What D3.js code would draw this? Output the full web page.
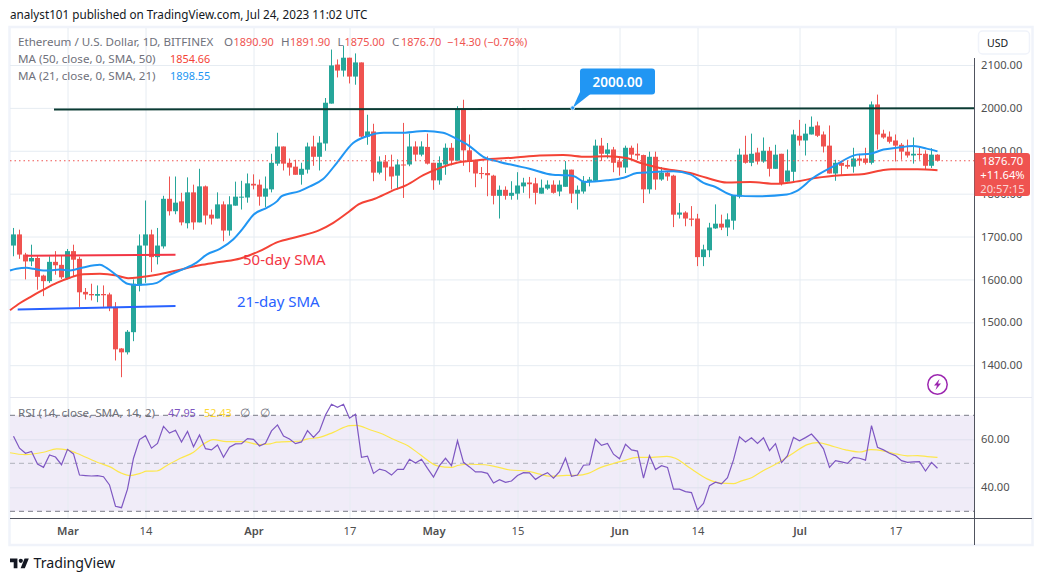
<!DOCTYPE html>
<html>
<head>
<meta charset="utf-8">
<title>ETH/USD daily chart</title>
<script src="https://cdn.jsdelivr.net/npm/d3@7"></script>
<style>
  html, body { margin: 0; padding: 0; background: #fff; }
  svg { display: block; }
  text { font-family: "Noto Sans", sans-serif; }
</style>
</head>
<body>
<svg id="chart" width="1044" height="581"></svg>
<script>
// Daily candles, Feb 20 to Jul 24 2023 (155 sessions)
const opens = [1679,1705,1658,1642,1650,1609,1596,1641,1634,1603,1666,1648,1571,1566,1562,1566,1565,1536,1439,1430,1477,1586,1679,1705,1652,1677,1788,1759,1782,1731,1803,1733,1817,1751,1742,1775,1714,1772,1792,1791,1823,1821,1793,1810,1870,1910,1872,1863,1844,1856,1910,1886,1917,2010,2101,2087,2117,2073,2106,1933,1945,1849,1875,1863,1842,1868,1868,1910,1891,1909,1872,1831,1868,1907,1877,1996,1901,1876,1848,1848,1842,1795,1809,1795,1800,1817,1826,1824,1800,1812,1821,1805,1816,1856,1800,1805,1828,1830,1912,1893,1903,1875,1861,1907,1893,1890,1810,1886,1833,1849,1842,1751,1756,1742,1742,1652,1668,1719,1730,1721,1737,1793,1891,1872,1896,1875,1900,1858,1893,1828,1851,1935,1924,1938,1959,1938,1912,1847,1872,1867,1863,1882,1882,1872,2008,1940,1933,1924,1914,1898,1889,1893,1893,1865,1890.9];
const highs = [1720,1716,1662,1681,1655,1611,1654,1666,1656,1671,1681,1653,1580,1590,1586,1586,1569,1547,1440,1482,1600,1705,1784,1716,1720,1795,1840,1840,1802,1838,1821,1858,1819,1763,1803,1782,1794,1828,1830,1847,1845,1833,1840,1893,1942,1910,1882,1879,1872,1919,1935,1934,2023,2136,2113,2145,2117,2127,2106,1984,1963,1887,1890,1891,1880,1965,1940,1922,1922,1940,1872,1887,1917,1918,2004,2019,1938,1879,1862,1887,1844,1819,1817,1829,1850,1837,1839,1837,1833,1831,1831,1831,1876,1856,1819,1841,1839,1926,1930,1918,1909,1887,1912,1912,1917,1891,1898,1898,1862,1852,1844,1778,1759,1771,1753,1681,1732,1775,1751,1754,1796,1905,1935,1940,1907,1931,1909,1914,1893,1903,1949,1972,1963,1980,1968,1945,1959,1879,1876,1877,1907,1893,1907,2015,2031,1949,1945,1938,1918,1926,1931,1907,1901,1906,1891.9];
const lows = [1654,1648,1600,1631,1576,1561,1592,1611,1601,1600,1607,1536,1553,1551,1547,1536,1526,1411,1372,1425,1456,1572,1592,1617,1635,1672,1749,1752,1726,1719,1716,1733,1728,1728,1742,1689,1702,1772,1763,1779,1810,1772,1769,1803,1865,1854,1842,1844,1821,1847,1865,1854,1900,2010,2071,2073,2057,2054,1930,1914,1829,1845,1830,1810,1810,1790,1864,1876,1887,1868,1809,1821,1844,1866,1877,1865,1850,1815,1835,1794,1775,1742,1786,1786,1786,1802,1789,1775,1800,1809,1800,1794,1816,1778,1763,1800,1817,1828,1876,1882,1850,1842,1848,1879,1879,1778,1800,1809,1830,1830,1722,1742,1724,1724,1631,1631,1652,1718,1715,1701,1716,1789,1870,1864,1868,1872,1840,1858,1819,1828,1828,1912,1889,1938,1932,1896,1847,1830,1844,1858,1849,1865,1868,1868,1903,1928,1917,1875,1879,1884,1870,1879,1856,1860,1875];
const closes = [1705,1658,1642,1650,1606,1596,1641,1633,1605,1666,1646,1570,1565,1563,1566,1563,1534,1437,1430,1478,1590,1679,1705,1652,1679,1788,1759,1779,1733,1803,1733,1817,1749,1742,1775,1714,1775,1793,1793,1824,1819,1793,1812,1872,1910,1870,1861,1844,1858,1910,1886,1919,2012,2099,2087,2117,2073,2106,1933,1945,1849,1875,1861,1840,1868,1866,1910,1891,1910,1870,1831,1872,1907,1877,1996,1901,1876,1847,1846,1843,1795,1809,1795,1802,1819,1826,1822,1802,1814,1821,1802,1821,1856,1800,1809,1830,1833,1912,1893,1903,1872,1861,1907,1891,1889,1810,1886,1833,1849,1840,1751,1756,1742,1739,1652,1670,1721,1730,1721,1740,1796,1891,1872,1893,1875,1900,1858,1891,1824,1854,1938,1924,1940,1956,1935,1910,1847,1872,1865,1863,1882,1877,1872,2008,1938,1931,1921,1912,1898,1889,1893,1890,1865,1891,1876.7];

// 21-day moving average, sampled along the curve
const sma21Days = [-1,0.5,2.2,3.3,5,6,7.7,9.4,11.6,14.4,15.5,17.2,19,20.5,22.2,23.9,25.5,27.8,30.5,32.2,34.4,36.6,38.3,40,42.2,43.9,44.7,47.7,49.4,51.6,53.9,56.6,58.9,61.7,64.4,68.6,71.6,73.8,76,78.3,81,83.8,86,89.9,91.6,93.3,95.3,98.9,101.7,103.9,106.1,110,112.8,115,116.9,120,123.9,128.9,130.5,133.3,136.7,140.6,142.8,145,147.2,150,152.2,154];
const sma21Values = [1621,1625,1627,1625,1621,1621,1623,1621,1628,1634,1627,1609,1590,1587,1588,1592,1607,1621,1639,1658,1671,1693,1720,1751,1767,1782,1794,1806,1817,1834,1872,1918,1934,1942,1942,1946,1942,1928,1911,1886,1874,1865,1858,1844,1843,1841,1827,1831,1837,1848,1850,1852,1845,1825,1816,1796,1794,1798,1806,1837,1864,1891,1893,1903,1907,1911,1905,1898.55];

// 50-day moving average, sampled along the curve
const sma50Days = [-1,1.1,2.8,5,7.2,9.4,11.6,14.4,17.2,19.1,21,23.9,27.2,31,34.6,37.8,41,44,47.2,51,53.3,56,57.5,60.2,63,65.5,68.3,71.1,73.9,76.6,79.4,83.3,87.7,91.6,95.5,98.9,102.2,104.4,107.7,112.8,115.5,118.9,122.8,127.2,130,133.9,137.9,141.8,144.6,146.3,150.7,154];
const sma50Values = [1528,1545,1559,1576,1592,1604,1612,1613,1609,1603,1605,1611,1621,1633,1641,1649,1666,1687,1699,1715,1732,1759,1775,1788,1806,1820,1843,1860,1872,1877,1881,1884,1889,1890,1886,1887,1883,1872,1860,1848,1837,1826,1827,1823,1827,1837,1843,1846,1854,1857,1857,1854.66];

// RSI(14), one reading per session
const rsiValues = [61.3,56.3,54.2,54.9,49.7,48.3,53.5,52.6,49.4,55.8,53.9,45.1,44.9,44.7,44.9,44.4,41,32.1,31.5,39.2,52.1,59.9,61.5,56.3,58.3,65.4,62.6,63.8,58.9,63.3,56.9,61.8,56.1,55.6,57.6,52.5,56.7,58.1,58.2,60.3,60,57.2,58.3,63.5,66,61.4,60.1,58.2,58.9,63.6,60.8,63.5,70.1,74.6,73.3,74.6,68.8,70.4,52.5,53,45.8,47.6,46.9,45.1,47.5,47.5,51.7,50.1,51.7,47.9,44.3,49,52.1,49,59.4,50.4,48.5,46.4,46.4,45.8,41.8,43.2,42.1,42.6,44.9,46.1,46,43.3,44.9,46.1,43.8,46.5,52.1,44.6,45.1,49.2,49.4,60,57.5,58.3,53.8,51.9,57.9,55.6,55.1,43.8,53.2,47.4,49,48.3,39.2,39.2,38.2,37.8,30.6,33.3,40.7,42.1,41.4,44,51.4,61,58.9,60.6,58.3,60.6,55.3,58.2,50.3,53.2,60.8,59.4,60.7,62.2,59.4,56,48.3,51.1,50.6,50,52.5,52.1,51.3,65.7,56.7,55.6,54.2,53.2,51.1,50.4,50.6,50.7,46.8,50.4,47.95];

// Smoothed RSI, sampled along the curve
const rsiSmaDays = [-1,1.9,5,7.2,8.9,10.5,14.4,16.1,17.8,19.4,21.1,22.2,23.9,25.5,27.8,30,31.6,33.3,35.5,38.3,41,42.8,43.9,47.8,48.9,51,53.3,56.1,57.2,59.4,61.6,63.3,65.8,67.7,70.8,73,74.2,76,78.6,80.5,82.8,85.5,87.5,89.4,92.2,93.9,95.8,97.8,100,101.6,103.9,106.4,108.9,110.3,112.2,113.4,115.6,117.9,120,121.2,123,124.5,127.3,130,132.3,134,136.8,138.7,141,142.9,145.1,147.3,149,150.7,152.3,154];
const rsiSmaValues = [54.4,53.6,54.6,56,55.6,54.2,50,48.5,46.1,44.9,45.8,46.7,46.8,49,52.1,54.6,57.9,59.9,59,59,57.8,58.1,58.8,59.3,60.1,60.8,62.9,65.7,65.8,64,62.1,60,57.2,53.8,48.8,48.3,49.2,49.6,49.4,48.5,47.2,46.8,45.6,44.6,45,45,45.8,48.2,49.9,51,52.5,52.5,52.9,52.1,49,46.9,43.5,41.7,41.5,42.6,44,46.3,50,54.3,57.8,58.6,56.9,55.6,54.7,55.7,55.1,53.8,53.1,53.2,52.8,52.43];

// Axis labels
const priceTicks = [2100,2000,1900,1800,1700,1600,1500,1400];
const rsiTicks = [60,40];
const timeTickDays = [9,22,40,56,70,84,101,114,131,147];
const timeTickLabels = ["Mar","14","Apr","17","May","15","Jun","14","Jul","17"];
const boldLabels = ["Mar","Apr","May","Jun","Jul"];

// Hand-drawn annotations
const resistanceDays = [6.75,154];
const resistancePrices = [1996,1999];
const sma50NoteDays = [2,27];
const sma50NotePrices = [1655,1657.5];
const sma21NoteDays = [0.7,27];
const sma21NotePrices = [1530,1538];
const calloutDay = 93.2;
const lastPrice = 1876.7;

// Colours
const UP = "#26a69a", DOWN = "#ef5350", GRID = "#e6ecf2", TEXT = "#4f4f4f", LEGEND = "#6f717b";
const AXIS_FONT = "Roboto, sans-serif";

const svg = d3.select("#chart");
const left = 10, right = 974.5, priceTop = 28, timeAxisY = 518.5;

const x = d3.scaleLinear().domain([0, 154]).range([13.5, 937.5]);
const y = d3.scaleLinear().domain([1400, 2100]).range([365.2, 65]);
const yRsi = d3.scaleLinear().domain([30, 70]).range([511.3, 415.3]);

// Frame
svg.append("rect").attr("x", 9.5).attr("y", 27).attr("width", 1023).attr("height", 518)
  .attr("fill", "#fff").attr("stroke", "#f0f3fa").attr("stroke-width", 2.5);

// RSI band sits under the grid
svg.append("rect").attr("x", left).attr("width", right - left)
  .attr("y", yRsi(70)).attr("height", yRsi(30) - yRsi(70)).attr("fill", "#f0ecf8");

// Grid from axis ticks
const vGrid = svg.append("g").attr("transform", `translate(0,${timeAxisY})`)
  .call(d3.axisTop(x).tickValues(timeTickDays).tickSize(timeAxisY - priceTop).tickFormat(""));
vGrid.select(".domain").remove();
vGrid.selectAll("line").attr("stroke", GRID);

const hGrid = svg.append("g").attr("transform", `translate(${left},0)`)
  .call(d3.axisRight(y).tickValues(priceTicks).tickSize(right - left).tickFormat(""));
hGrid.select(".domain").remove();
hGrid.selectAll("line").attr("stroke", GRID);

const rGrid = svg.append("g").attr("transform", `translate(${left},0)`)
  .call(d3.axisRight(yRsi).tickValues(rsiTicks).tickSize(right - left).tickFormat(""));
rGrid.select(".domain").remove();
rGrid.selectAll("line").attr("stroke", "#dfe1ee");

// Pane divider
svg.append("line").attr("x1", left).attr("x2", 1032).attr("y1", 397.5).attr("y2", 397.5)
  .attr("stroke", "#e6e8f0").attr("stroke-width", 1);

// Candles
const plot = svg.append("g");
const candles = plot.selectAll("g.candle").data(opens.map((o, i) => i)).join("g").attr("class", "candle");
const candleColor = i => closes[i] >= opens[i] ? UP : DOWN;
candles.append("line")
  .attr("x1", i => x(i)).attr("x2", i => x(i))
  .attr("y1", i => y(highs[i])).attr("y2", i => y(lows[i]))
  .attr("stroke", candleColor).attr("stroke-width", 1);
candles.append("rect")
  .attr("x", i => x(i) - 2.5).attr("width", 5)
  .attr("y", i => y(Math.max(opens[i], closes[i])))
  .attr("height", i => Math.max(1, Math.abs(y(opens[i]) - y(closes[i]))))
  .attr("fill", candleColor);

// Moving averages
const maLine = (days, values, color) => plot.append("path")
  .datum(days.map((d, i) => [d, values[i]]))
  .attr("fill", "none").attr("stroke", color).attr("stroke-width", 2).attr("stroke-linejoin", "round")
  .attr("d", d3.line().x(d => Math.max(left, x(d[0]))).y(d => y(d[1])).curve(d3.curveMonotoneX));
maLine(sma50Days, sma50Values, "#f44336");
maLine(sma21Days, sma21Values, "#2196f3");

// Last price guide
svg.append("line").attr("x1", left).attr("x2", right).attr("y1", y(lastPrice)).attr("y2", y(lastPrice))
  .attr("stroke", DOWN).attr("stroke-width", 1).attr("stroke-dasharray", "1.5 3");

// Annotated lines
const noteLine = (days, prices, color) => svg.append("line")
  .attr("x1", x(days[0])).attr("x2", Math.min(right, x(days[1]) + 37))
  .attr("y1", y(prices[0])).attr("y2", y(prices[1]))
  .attr("stroke", color).attr("stroke-width", 2);
noteLine(resistanceDays, resistancePrices, "#0b3b33");

const shortLine = (days, prices, color) => svg.append("line")
  .attr("x1", x(days[0])).attr("x2", x(days[1]))
  .attr("y1", y(prices[0])).attr("y2", y(prices[1]))
  .attr("stroke", color).attr("stroke-width", 2);
shortLine(sma50NoteDays, sma50NotePrices, "#f23645");
shortLine(sma21NoteDays, sma21NotePrices, "#2962ff");

svg.append("text").attr("x", 243).attr("y", 265).attr("font-size", 15).attr("fill", "#f23645").text("50-day SMA");
svg.append("text").attr("x", 237).attr("y", 307).attr("font-size", 15).attr("fill", "#2962ff").text("21-day SMA");

// Callout for the 2000 level
const cx = x(calloutDay), cy = y(2000);
svg.append("path").attr("fill", "#2196f3")
  .attr("d", `M${cx},${cy} L580,92 L593,92 Z`);
svg.append("rect").attr("x", 580).attr("y", 68.5).attr("width", 75).attr("height", 26).attr("rx", 3).attr("fill", "#2196f3");
svg.append("circle").attr("cx", cx).attr("cy", cy).attr("r", 2).attr("fill", "#2196f3").attr("stroke", "#cfe6fb").attr("stroke-width", 0.8);
svg.append("text").attr("x", 617.5).attr("y", 86.5).attr("text-anchor", "middle").attr("font-size", 13.5)
  .attr("font-weight", 600).attr("fill", "#fff").text("2000.00");

// RSI pane
const rsiLevel = (v, color, dash) => svg.append("line").attr("x1", left).attr("x2", right)
  .attr("y1", yRsi(v)).attr("y2", yRsi(v)).attr("stroke", color).attr("stroke-dasharray", dash);
rsiLevel(70, "#787b86", "5 4");
rsiLevel(50, "#b0b2bb", "5 4");
rsiLevel(30, "#787b86", "5 4");

svg.append("path").datum(rsiSmaDays.map((d, i) => [d, rsiSmaValues[i]]))
  .attr("fill", "none").attr("stroke", "#fde74c").attr("stroke-width", 1.2)
  .attr("d", d3.line().x(d => Math.max(left, x(d[0]))).y(d => yRsi(d[1])).curve(d3.curveMonotoneX));
svg.append("path").datum(rsiValues)
  .attr("fill", "none").attr("stroke", "#7e57c2").attr("stroke-width", 1.2)
  .attr("d", d3.line().x((d, i) => x(i)).y(d => yRsi(d)));

// Axes
svg.append("line").attr("x1", left).attr("x2", 1032).attr("y1", timeAxisY).attr("y2", timeAxisY).attr("stroke", "#50535e").attr("stroke-width", 1);
svg.append("line").attr("x1", right).attr("x2", right).attr("y1", 58).attr("y2", 545).attr("stroke", "#50535e").attr("stroke-width", 1);

const styleTicks = g => {
  g.select(".domain").remove();
  g.selectAll("line").remove();
  g.selectAll("text").attr("font-size", 11.2).attr("fill", TEXT).attr("font-family", AXIS_FONT);
};
svg.append("g").attr("transform", `translate(974,0)`)
  .call(d3.axisRight(y).tickValues(priceTicks).tickSize(0).tickPadding(7).tickFormat(d3.format(".2f")))
  .call(styleTicks);
svg.append("g").attr("transform", `translate(974,0)`)
  .call(d3.axisRight(yRsi).tickValues(rsiTicks).tickSize(0).tickPadding(7).tickFormat(d3.format(".2f")))
  .call(styleTicks);
svg.append("g").attr("transform", `translate(0,519)`)
  .call(d3.axisBottom(x).tickValues(timeTickDays).tickSize(0).tickPadding(8)
    .tickFormat((d, i) => timeTickLabels[i]))
  .call(styleTicks)
  .selectAll("text").attr("font-weight", (d, i) => boldLabels.includes(timeTickLabels[i]) ? 600 : 400);

// Price tag
svg.append("path").attr("fill", DOWN)
  .attr("d", "M974.5,153 H1027 a3,3 0 0 1 3,3 V193 a3,3 0 0 1 -3,3 H974.5 Z");
[["1876.70", 165, "#fff"], ["+11.64%", 179, "#fff"], ["20:57:15", 193, "#fbd5d4"]].forEach(([t, ty, c]) =>
  svg.append("text").attr("x", 1002.5).attr("y", ty).attr("text-anchor", "middle").attr("font-family", AXIS_FONT)
    .attr("font-size", 11.2).attr("fill", c).text(t));

// Currency button
svg.append("rect").attr("x", 978.5).attr("y", 31).attr("width", 51).attr("height", 23).attr("rx", 4)
  .attr("fill", "#fff").attr("stroke", "#f0f3fa").attr("stroke-width", 1.5);
svg.append("text").attr("x", 987).attr("y", 47).attr("font-size", 10.5).attr("fill", "#131722").text("USD");

// Lightning badge
svg.append("circle").attr("cx", 937.5).attr("cy", 384.5).attr("r", 9.7).attr("fill", "#fff")
  .attr("stroke", "#9c27b0").attr("stroke-width", 1.5);
svg.append("path").attr("fill", "#9c27b0")
  .attr("d", "M939.5,379 L934,385.5 L937,385.5 L935.5,390 L941,383.5 L938,383.5 Z");

// Header and legends
svg.append("text").attr("x", 10).attr("y", 19).attr("font-size", 11.7).attr("fill", "#131722")
  .text("analyst101 published on TradingView.com, Jul 24, 2023 11:02 UTC");

const legendRow = (ty, parts) => parts.forEach(([t, px, c]) =>
  svg.append("text").attr("x", px).attr("y", ty).attr("font-size", /\d{2}\.\d/.test(t) ? 10.9 : 11.6).attr("fill", c).text(t));
legendRow(46, [
  ["Ethereum / U.S. Dollar, 1D, BITFINEX", 18, LEGEND],
  ["O", 224, LEGEND], ["1890.90", 233.5, DOWN],
  ["H", 281, LEGEND], ["1891.90", 290, DOWN],
  ["L", 337.5, LEGEND], ["1875.00", 344.5, DOWN],
  ["C", 392, LEGEND], ["1876.70", 401, DOWN],
  ["\u221214.30 (\u22120.76%)", 447, DOWN]
]);
legendRow(63, [["MA (50, close, 0, SMA, 50)", 18, LEGEND], ["1854.66", 170, "#f44336"]]);
legendRow(80, [["MA (21, close, 0, SMA, 21)", 18, LEGEND], ["1898.55", 170, "#2196f3"]]);
legendRow(417, [
  ["RSI (14, close, SMA, 14, 2)", 18, LEGEND],
  ["47.95", 168, "#7e57c2"], ["52.43", 204, "#fdd835"],
  ["\u2205", 240, LEGEND], ["\u2205", 260, LEGEND]
]);

// Footer brand
svg.append("g").attr("transform", "translate(10,556.5) scale(0.53)")
  .append("path").attr("fill", "#131722")
  .attr("d", "M14 22H7V11H0V4h14v18zM28 22h-8l7.5-18h8L28 22z");
svg.append("circle").attr("cx", 20.8).attr("cy", 560.8).attr("r", 2.1).attr("fill", "#131722");
svg.append("text").attr("x", 33.5).attr("y", 568).attr("font-size", 14.2).attr("fill", "#131722").text("TradingView");
</script>
</body>
</html>
